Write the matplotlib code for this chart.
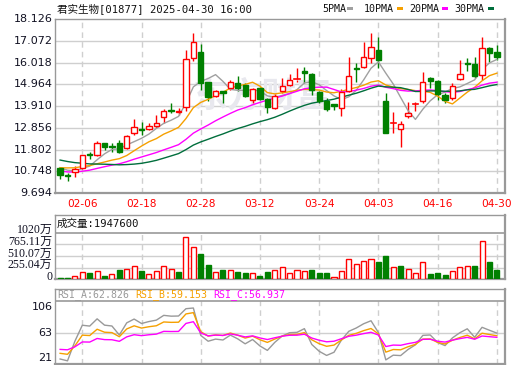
import numpy as np
import pandas as pd
import matplotlib
matplotlib.use("Agg")
import matplotlib.pyplot as plt
from matplotlib.patches import Rectangle
import matplotlib.transforms as mtrans

# ---------------- data ----------------
title = "君实生物[01877] 2025-04-30 16:00"
dates = ["02-03","02-04","02-05","02-06","02-07","02-10","02-11","02-12","02-13","02-14",
         "02-17","02-18","02-19","02-20","02-21","02-24","02-25","02-26","02-27","02-28",
         "03-03","03-04","03-05","03-06","03-07","03-10","03-11","03-12","03-13","03-14",
         "03-17","03-18","03-19","03-20","03-21","03-24","03-25","03-26","03-27","03-28",
         "03-31","04-01","04-02","04-03","04-07","04-08","04-09","04-10","04-11","04-14",
         "04-15","04-16","04-17","04-22","04-23","04-24","04-25","04-28","04-29","04-30"]
tick_dates = ["02-06","02-18","02-28","03-12","03-24","04-03","04-16","04-30"]

open_ = [10.89,10.55,10.73,10.89,11.56,11.54,12.10,11.96,12.10,11.89,
         12.62,12.80,12.80,12.94,13.36,13.70,13.63,13.85,16.22,16.51,
         15.06,14.39,14.62,14.77,15.04,14.93,14.20,14.80,14.25,13.83,
         14.65,14.93,15.18,15.60,15.46,14.60,14.15,13.99,13.80,14.65,
         15.76,15.79,16.22,16.62,14.15,13.09,12.78,13.44,13.99,14.17,
         15.25,15.12,14.44,14.28,15.20,16.00,15.94,15.41,16.70,16.52]
close = [10.57,10.50,10.86,11.54,11.52,12.10,11.94,11.92,11.70,12.46,
         12.89,12.76,12.94,13.07,13.68,13.66,13.68,16.17,16.99,15.01,
         14.36,14.62,14.54,15.05,14.77,14.39,14.72,14.25,13.88,14.39,
         14.88,15.17,15.20,15.50,14.68,14.15,13.76,13.91,14.60,15.36,
         15.72,16.27,16.75,16.14,12.62,13.10,13.02,13.56,14.00,15.09,
         15.14,14.49,14.20,14.89,15.46,15.96,15.38,16.70,16.49,16.30]
high = [10.97,10.68,11.00,11.54,11.70,12.21,12.12,12.13,12.26,12.50,
        13.28,13.15,13.07,13.47,13.78,14.07,13.80,16.62,17.46,16.91,
        15.09,14.68,14.65,15.17,15.36,15.01,14.77,14.85,14.31,14.49,
        15.25,15.46,15.74,15.79,15.50,14.65,14.28,14.00,14.72,16.30,
        16.01,17.00,17.43,17.27,14.52,13.63,13.20,14.12,14.12,15.57,
        15.33,15.17,14.52,15.01,16.14,16.25,16.27,17.27,16.78,16.87]
low = [10.36,10.29,10.48,10.86,11.33,11.50,11.78,11.70,11.65,11.84,
       12.50,12.50,12.75,12.83,13.07,13.56,13.47,13.68,16.11,14.68,
       14.17,14.33,14.07,14.68,14.65,14.33,14.07,14.20,13.58,13.76,
       14.55,14.88,15.09,15.01,14.44,14.04,13.68,13.72,13.43,14.60,
       15.09,15.74,15.98,15.74,12.59,12.59,11.94,13.34,13.68,14.07,
       14.77,14.20,14.04,14.20,15.17,15.60,15.25,15.17,16.06,16.14]
# earlier closes (before 02-03) feeding the moving averages / RSI
pre_close = [12.6,12.5,12.4,12.5,12.3,12.2,12.3,12.2,12.1,12.2,
             11.6,11.0,10.7,10.5,10.4,10.3,10.4,10.4,10.4,10.5,
             10.6,10.8,10.9,11.1,11.2,11.1,11.0,11.0,10.93]
# volume in 万
volume = [36,36,72,153,138,175,72,109,204,226,
          285,182,109,175,285,226,160,919,700,554,
          313,153,204,204,160,131,146,72,160,204,
          263,131,204,190,197,138,138,44,190,438,
          328,394,438,372,510,263,285,219,131,372,
          109,138,94,190,263,285,285,845,372,194.76]
vol_up = [0,0,1,1,0,1,0,1,0,1, 1,0,1,1,1,1,0,1,1,0,
          0,1,0,1,0,0,1,0,0,1, 1,1,1,1,0,0,0,1,1,1,
          1,1,1,0,0,1,0,1,1,1, 0,0,0,1,1,1,0,1,0,0]
price_ticks = [9.694,10.748,11.802,12.856,13.910,14.964,16.018,17.072,18.126]
vol_ticks = [0,255.04,510.07,765.11,1020]
vol_tick_labels = ["0","255.04万","510.07万","765.11万","1020万"]
rsi_min, rsi_mid, rsi_max = 21, 63, 106
ma_periods = [5,10,20,30]
rsi_periods = [6,12,24]
rsi_header = ["RSI_A:62.826","RSI_B:59.153","RSI_C:56.937"]
vol_header = "成交量:1947600"

# ---------------- style ----------------
RED = "#ff0000"
GRN = "#008000"
MA_COL = ["#a0a0a0", "#f5a000", "#ff00ff", "#006e3c"]
RSI_COL = ["#999999", "#f5a000", "#ff00ff"]
GRID = "#cfcfcf"
BORDER = "#999999"
MONO_CJK = ["DejaVu Sans Mono", "Noto Sans CJK SC"]

W, H = 520, 365
fig = plt.figure(figsize=(W/100, H/100), dpi=100)
fig.patch.set_facecolor("white")

def fax(x0, y0, x1, y1):
    return fig.add_axes([x0/W, 1 - y1/H, (x1 - x0)/W, (y1 - y0)/H])

n = len(close)
x = np.arange(n)
tick_idx = [dates.index(d) for d in tick_dates]

allc = pd.Series(pre_close + close)
npre = len(pre_close)

def style_box(ax):
    for s in ax.spines.values():
        s.set_color(BORDER)
        s.set_linewidth(1.0)
    ax.spines["right"].set_linewidth(1.6)
    ax.spines["bottom"].set_linewidth(1.6)
    ax.set_xticks([]); ax.set_yticks([])
    ax.set_xlim(-0.69, n + 0.1)

def ylab(ax, val, s, dy=0, **kw):
    tr = mtrans.offset_copy(mtrans.blended_transform_factory(ax.transAxes, ax.transData),
                            fig=fig, x=-2.5, y=dy, units="dots")
    ax.text(0, val, s, transform=tr, ha="right", va="center", clip_on=False, **kw)

def vgrid(ax):
    for t in tick_idx:
        ax.axvline(t, color=GRID, lw=1, ls=(0, (4, 3)), zorder=0.5)

# ---------------- main price panel ----------------
ax = fax(55, 19, 505, 193)
style_box(ax)
ax.set_ylim(price_ticks[0], price_ticks[-1])
for p in price_ticks[1:-1]:
    ax.axhline(p, color=GRID, lw=1, zorder=0.5)
vgrid(ax)
ax.text(0.46, 0.56, "东方财富", transform=ax.transAxes, fontsize=25, color="#e8e8ee",
        ha="center", va="center", family="Noto Sans CJK SC", weight="bold", zorder=0.6)

bw = 0.72
for i in range(n):
    o, h, l, c = open_[i], high[i], low[i], close[i]
    up = c >= o
    col = RED if up else GRN
    lo_b, hi_b = min(o, c), max(o, c)
    ax.plot([i, i], [l, lo_b], color=col, lw=1, zorder=2, solid_capstyle="butt")
    ax.plot([i, i], [hi_b, h], color=col, lw=1, zorder=2, solid_capstyle="butt")
    if hi_b - lo_b < 0.03:
        ax.plot([i - bw/2, i + bw/2], [c, c], color=col, lw=1.2, zorder=3)
    else:
        ax.add_patch(Rectangle((i - bw/2, lo_b), bw, hi_b - lo_b,
                               facecolor="white" if up else col, edgecolor=col,
                               lw=1, zorder=3))

for per, colr in zip(ma_periods, MA_COL):
    ma = allc.rolling(per).mean().values[npre:]
    ax.plot(x, ma, color=colr, lw=1, zorder=2.5)

for p in price_ticks:
    ylab(ax, p, f"{p:.3f}", fontsize=8, color="#111122", family="DejaVu Sans")
tr_x = mtrans.offset_copy(mtrans.blended_transform_factory(ax.transData, ax.transAxes),
                          fig=fig, x=0, y=-11, units="dots")
for t, lab in zip(tick_idx, tick_dates):
    ax.text(t, 0, lab, transform=tr_x, ha="center", va="center", fontsize=7.6,
            color=RED, family="DejaVu Sans")

# title & legend
fig.text(57/W, 1 - 8.5/H, title, fontsize=7.6, family=MONO_CJK, ha="left", va="center",
         color="#111111")
leg_x = [322, 363.5, 409, 454.5]
sw_x = [347, 396.5, 441.5, 487.5]
for lx, sx, per, colr in zip(leg_x, sw_x, ma_periods, MA_COL):
    fig.text(lx/W, 1 - 8.5/H, f"{per}PMA", fontsize=7.2, family="DejaVu Sans Mono",
             ha="left", va="center", color="#111111")
    fig.patches.append(Rectangle((sx/W, 1 - 9.5/H), 6/W, 2.5/H, transform=fig.transFigure,
                                 facecolor=colr, edgecolor="none"))

# ---------------- volume panel ----------------
axv = fax(55, 215, 505, 279.3)
style_box(axv)
vtop = 1020 * 64.3 / 46.6
axv.set_ylim(0, vtop)
for v in vol_ticks[1:-1]:
    axv.axhline(v, color=GRID, lw=1, zorder=0.5)
axv.axhline(vol_ticks[-1], color=BORDER, lw=1.2, zorder=1)
for t in tick_idx:
    axv.plot([t, t], [0, vol_ticks[-1]], color=GRID, lw=1, ls=(0, (4, 3)), zorder=0.5)
vbw = 0.68
for i in range(n):
    col = RED if vol_up[i] else GRN
    axv.add_patch(Rectangle((i - vbw/2, 0), vbw, volume[i],
                            facecolor="white" if vol_up[i] else col, edgecolor=col,
                            lw=1, zorder=3))
for v, s in zip(vol_ticks, vol_tick_labels):
    ylab(axv, v, s, dy=2.5, fontsize=8.6, color="#111122",
         family=["Liberation Serif", "Noto Sans CJK SC"])
axv.text(2/450, (vtop + vol_ticks[-1]) / 2 / vtop, vol_header, transform=axv.transAxes,
         fontsize=7.6, family=MONO_CJK, ha="left", va="center", color="#111111")

# ---------------- RSI panel ----------------
def rsi(series, per):
    d = np.diff(np.asarray(series, dtype=float))
    up = np.maximum(d, 0.0)
    ab = np.abs(d)
    sa = ab.mean()          # neutral start (RSI 50) for the smoothing
    su = sa / 2
    out = []
    for u, a in zip(up, ab):
        su = (u + (per - 1) * su) / per
        sa = (a + (per - 1) * sa) / per
        out.append(100 * su / sa if sa > 0 else 50.0)
    return np.array(out)

axr = fax(55, 289, 505, 364)
style_box(axr)
ppu = 63.0 / (rsi_max - rsi_min)          # pixels per RSI unit in the plot area
r_hi = rsi_max + 12.0 / ppu                  # header strip above the plot area
axr.set_ylim(rsi_min, r_hi)
axr.axhline(rsi_mid, color=GRID, lw=1, zorder=0.5)
axr.axhline(rsi_max, color=BORDER, lw=1.2, zorder=1)
for t in tick_idx:
    axr.plot([t, t], [rsi_min, rsi_max], color=GRID, lw=1, ls=(0, (4, 3)), zorder=0.5)
allvals = pre_close + close
for per, colr in zip(rsi_periods, RSI_COL):
    r = rsi(allvals, per)[-n:]
    axr.plot(x, r, color=colr, lw=1, zorder=2)
for v, dy in zip([rsi_min, rsi_mid, rsi_max], [6.3, 0, -5.7]):
    ylab(axr, v, str(v), dy=dy, fontsize=8, color="#111122", family="DejaVu Sans")
hx = [57.3, 135, 213.3]
for hxx, s, colr in zip(hx, rsi_header, RSI_COL):
    axr.text((hxx - 55)/450, (r_hi + rsi_max) / 2, s,
             transform=mtrans.blended_transform_factory(axr.transAxes, axr.transData),
             fontsize=7.1, family="DejaVu Sans Mono", ha="left", va="center", color=colr)

fig.savefig("out.png", dpi=100, facecolor="white")
